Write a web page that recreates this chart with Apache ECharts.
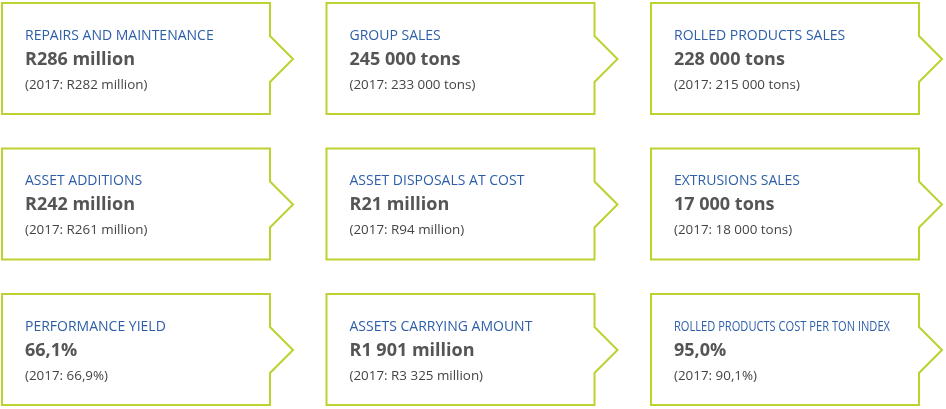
<!DOCTYPE html>
<html>
<head>
<meta charset="utf-8">
<script src="https://cdn.jsdelivr.net/npm/echarts@6/dist/echarts.min.js"></script>
<style>
html,body{margin:0;padding:0;background:#fff;}
#chart{width:946px;height:409px;}
</style>
</head>
<body>
<div id="chart"></div>
<script>
// ---- data ----
var titles = [
  'REPAIRS AND MAINTENANCE', 'GROUP SALES', 'ROLLED PRODUCTS SALES',
  'ASSET ADDITIONS', 'ASSET DISPOSALS AT COST', 'EXTRUSIONS SALES',
  'PERFORMANCE YIELD', 'ASSETS CARRYING AMOUNT', 'ROLLED PRODUCTS COST PER TON INDEX'
];
var values2018 = [
  'R286 million', '245 000 tons', '228 000 tons',
  'R242 million', 'R21 million', '17 000 tons',
  '66,1%', 'R1 901 million', '95,0%'
];
var values2017 = [
  '(2017: R282 million)', '(2017: 233 000 tons)', '(2017: 215 000 tons)',
  '(2017: R261 million)', '(2017: R94 million)', '(2017: 18 000 tons)',
  '(2017: 66,9%)', '(2017: R3 325 million)', '(2017: 90,1%)'
];
var cols = [0, 1, 2, 0, 1, 2, 0, 1, 2];
var rows = [0, 0, 0, 1, 1, 1, 2, 2, 2];

// ---- rendering ----
var FONT = '"Open Sans", "Noto Sans", sans-serif';
var canvasMeasure = document.createElement('canvas').getContext('2d');
function textWidth(t, font) { canvasMeasure.font = font; return canvasMeasure.measureText(t).width; }

var seriesData = titles.map(function (t, i) { return [cols[i], rows[i], i]; });

var chart = echarts.init(document.getElementById('chart'), null, {renderer: 'canvas'});
chart.setOption({
  animation: false,
  backgroundColor: '#ffffff',
  grid: {left: 2, top: 3, width: 649, height: 291},
  xAxis: {type: 'value', min: 0, max: 2, show: false},
  yAxis: {type: 'value', min: 0, max: 2, inverse: true, show: false},
  series: [{
    type: 'custom',
    coordinateSystem: 'cartesian2d',
    clip: false,
    data: seriesData,
    renderItem: function (params, api) {
      var p = api.coord([api.value(0), api.value(1)]);
      var i = api.value(2);
      var x = p[0], y = p[1];
      var w = 268, h = 111, a1 = 33, a2 = 79, tip = 56, td = 23;
      var pts = [[x, y], [x + w, y], [x + w, y + a1], [x + w + td, y + tip],
                 [x + w, y + a2], [x + w, y + h], [x, y + h]];
      var titleFont = '14px ' + FONT;
      var tw = textWidth(titles[i], titleFont);
      var maxW = 216;
      var sx = tw > maxW ? maxW / tw : 1;
      return {
        type: 'group',
        children: [
          {type: 'polygon', shape: {points: pts},
           style: {fill: '#ffffff', stroke: '#bdd12f', lineWidth: 2}},
          {type: 'text', x: x + 23, y: y + 33, scaleX: sx,
           style: {text: titles[i], font: titleFont, fill: '#2d5ea8',
                   verticalAlign: 'middle', align: 'left'}},
          {type: 'text', x: x + 23, y: y + 56.5,
           style: {text: values2018[i], font: 'bold 18px ' + FONT, fill: '#555555',
                   verticalAlign: 'middle', align: 'left'}},
          {type: 'text', x: x + 23, y: y + 82,
           style: {text: values2017[i], font: '13.4px ' + FONT, fill: '#444444',
                   verticalAlign: 'middle', align: 'left'}}
        ]
      };
    }
  }]
});
</script>
</body>
</html>
